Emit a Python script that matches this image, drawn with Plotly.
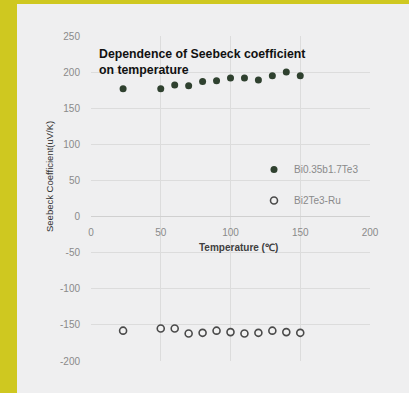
import plotly.graph_objects as go

# Measured Seebeck coefficient vs. temperature
temperature = [23, 50, 60, 70, 80, 90, 100, 110, 120, 130, 140, 150]
seebeck_p = [177, 177, 182, 181, 187, 188, 192, 192, 189, 195, 200, 195]
seebeck_n = [-158, -155, -155, -162, -161, -158, -160, -162, -161, -158, -160, -161]
series_names = ["Bi0.35b1.7Te3", "Bi2Te3-Ru"]
x_ticks = [0, 50, 100, 150, 200]
y_ticks = [-200, -150, -100, -50, 0, 50, 100, 150, 200, 250]

W, H = 409, 393
L, R, T, B = 91, 39, 36, 32
PW, PH = W - L - R, H - T - B


def px_x(px):
    return (px - L) / PW


def px_y(py):
    return (H - B - py) / PH


fig = go.Figure()
fig.add_trace(go.Scatter(
    x=temperature, y=seebeck_p, mode="markers", name=series_names[0],
    marker=dict(size=7, color="#2f412f", line=dict(width=0)),
    legend="legend",
))
fig.add_trace(go.Scatter(
    x=temperature, y=seebeck_n, mode="markers", name=series_names[1],
    marker=dict(size=7, color="#f2f2f2", line=dict(width=1.6, color="#4a4a4a")),
    legend="legend2",
))

grid = "#dcdcdc"
base = "Liberation Sans, Arial"
tick_font = dict(family=base, size=10, color="#8a8a8a")
legend_font = dict(family=base, size=10, color="#8a8a8a")

fig.update_layout(
    template="none",
    width=W, height=H,
    margin=dict(l=L, r=R, t=T, b=B),
    paper_bgcolor="#efeff0",
    plot_bgcolor="#efeff0",
    showlegend=True,
    title=dict(
        text="<b>Dependence of Seebeck coefficient<br>on temperature</b>",
        font=dict(family=base, size=12.3, color="#111111"),
        xref="paper", yref="paper", x=px_x(99), y=px_y(58),
        xanchor="left", yanchor="top",
    ),
    xaxis=dict(
        range=[0, 200], tickvals=x_ticks, ticktext=[str(v) for v in x_ticks],
        showgrid=True, gridcolor=grid, gridwidth=1, zeroline=False,
        showline=False, ticks="", anchor="free", position=px_y(216),
        tickfont=tick_font, ticklabelstandoff=9,
    ),
    yaxis=dict(
        range=[-200, 250], tickvals=y_ticks, ticktext=[str(v) for v in y_ticks],
        showgrid=True, gridcolor=grid, gridwidth=1, zeroline=True,
        zerolinecolor="#d0d0d0", zerolinewidth=1, showline=False, ticks="",
        tickfont=tick_font, ticklabelstandoff=10,
    ),
    legend=dict(x=px_x(254), y=px_y(155), xanchor="left", yanchor="top",
                bgcolor="rgba(0,0,0,0)", font=legend_font, itemwidth=30),
    legend2=dict(x=px_x(254), y=px_y(186), xanchor="left", yanchor="top",
                 bgcolor="rgba(0,0,0,0)", font=legend_font, itemwidth=30),
    annotations=[
        dict(text="Seebeck Coefficient(uV/K)", textangle=-90, showarrow=False,
             xref="paper", yref="paper", x=px_x(49), y=px_y(177),
             xanchor="center", yanchor="middle",
             font=dict(family=base, size=9.5, color="#333333")),
        dict(text="<b>Temperature (℃)</b>", showarrow=False,
             xref="paper", yref="paper", x=px_x(238), y=px_y(247),
             xanchor="center", yanchor="middle",
             font=dict(family=base, size=10, color="#404040")),
    ],
    shapes=[
        dict(type="rect", xref="paper", yref="paper", layer="below",
             x0=px_x(0), x1=px_x(17), y0=px_y(H), y1=px_y(0),
             fillcolor="#cfc820", line=dict(width=0)),
        dict(type="rect", xref="paper", yref="paper", layer="below",
             x0=px_x(0), x1=px_x(W), y0=px_y(4), y1=px_y(0),
             fillcolor="#cfc820", line=dict(width=0)),
    ],
)

fig.write_html("out.html")
